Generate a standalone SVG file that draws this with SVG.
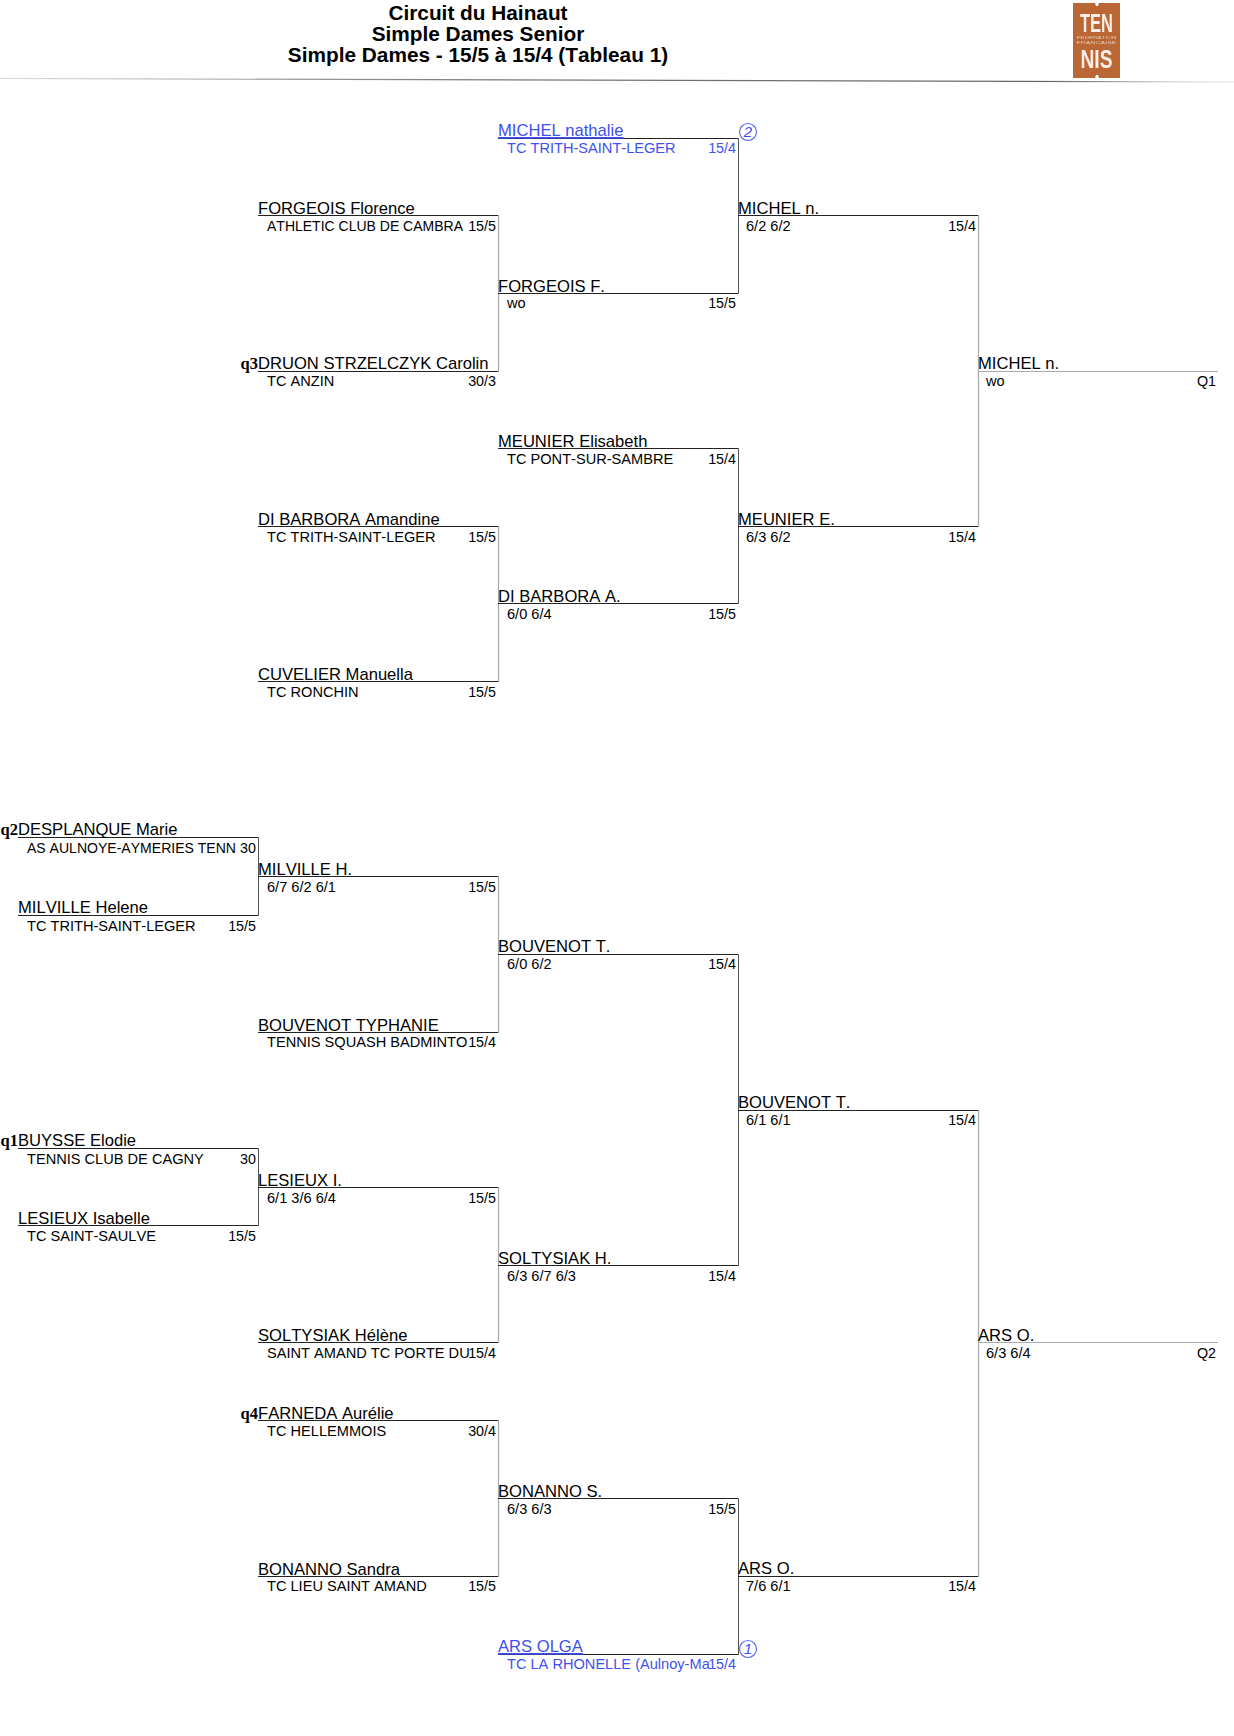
<svg xmlns="http://www.w3.org/2000/svg" width="1234" height="1736" viewBox="0 0 1234 1736">
<defs>
<linearGradient id="hr" x1="0" y1="0" x2="1234" y2="0" gradientUnits="userSpaceOnUse"><stop offset="0" stop-color="#d8d8d8"/><stop offset="0.15" stop-color="#aaa"/><stop offset="0.4" stop-color="#777"/><stop offset="0.85" stop-color="#666"/><stop offset="0.95" stop-color="#ccc"/><stop offset="1" stop-color="#e4e4e4"/></linearGradient>
<filter id="soft" x="-5%" y="-5%" width="110%" height="110%"><feGaussianBlur stdDeviation="0.5"/></filter>
</defs>
<style>
text{font-family:"Liberation Sans",Arial,sans-serif;fill:#000;font-kerning:none}
.t{font-size:20.8px;font-weight:bold;text-anchor:middle}
.n{font-size:16.6px}
.c{font-size:14.6px}
.r{font-size:14.3px;text-anchor:end}
.q{font-family:"Liberation Serif","Times New Roman",serif;font-size:16.5px;font-weight:bold;text-anchor:end}
.b text{fill:#3f50f0}
.h{stroke:#222;stroke-width:1;fill:none}
.v{stroke:#555;stroke-width:1;fill:none}
.g{stroke:#aaa;stroke-width:1.2;fill:none}
.s{fill:none;stroke:#5a6cf0;stroke-width:1.2}
.sn{font-size:15px;font-style:italic;text-anchor:middle;fill:#3f50f0}
</style>
<g id="header">
<text class="t" x="478" y="20">Circuit du Hainaut</text>
<text class="t" x="478" y="41">Simple Dames Senior</text>
<text class="t" x="478" y="62">Simple Dames - 15/5 à 15/4 (Tableau 1)</text>
<line x1="0" y1="78.5" x2="1234" y2="82" stroke="url(#hr)" stroke-width="1.2"/>
</g>
<g id="logo" filter="url(#soft)">
<path d="M1073 3H1095L1096 6H1098L1099 3H1120V78H1099L1098 75H1096L1095 78H1073Z" fill="#bb6636"/>
<text x="1096.500" y="32" font-size="25" font-weight="bold" text-anchor="middle" style="fill:#fbeee6;font-family:'Liberation Sans Narrow','Liberation Sans',sans-serif" textLength="33" lengthAdjust="spacingAndGlyphs">TEN</text>
<text x="1096.500" y="39" font-size="4" text-anchor="middle" style="fill:#e8c8b4" textLength="40" lengthAdjust="spacingAndGlyphs">FEDERATION</text>
<text x="1096.500" y="44" font-size="4" text-anchor="middle" style="fill:#e8c8b4" textLength="40" lengthAdjust="spacingAndGlyphs">FRANCAISE</text>
<text x="1096.500" y="68" font-size="25" font-weight="bold" text-anchor="middle" style="fill:#fbeee6;font-family:'Liberation Sans Narrow','Liberation Sans',sans-serif" textLength="32" lengthAdjust="spacingAndGlyphs">NIS</text>
</g>
<g id="connectors">
<path class="h" d="M18 837.500H258.500M18 915.500H258.500M18 1148.500H258.500M18 1225.500H258.500"/>
<path class="v" d="M258.500 837.500V915.500M258.500 1148.500V1225.500"/>
<path class="h" d="M258 215.500H498.500M258 371.500H498.500M258 526.500H498.500M258 681.500H498.500M258 876.500H498.500M258 1032.500H498.500M258 1187.500H498.500M258 1342.500H498.500M258 1420.500H498.500M258 1576.500H498.500"/>
<path class="g" d="M498.500 215.500V371.500M498.500 526.500V681.500M498.500 876.500V1032.500M498.500 1187.500V1342.500M498.500 1420.500V1576.500"/>
<path class="h" d="M498 138.500H738.500M498 293.500H738.500M498 448.500H738.500M498 603.500H738.500M498 954.500H738.500M498 1265.500H738.500M498 1498.500H738.500M498 1654.500H738.500"/>
<path class="v" d="M738.500 138.500V293.500M738.500 448.500V603.500M738.500 954.500V1265.500M738.500 1498.500V1654.500"/>
<path class="h" d="M738 215.500H978.500M738 526.500H978.500M738 1110.500H978.500M738 1576.500H978.500"/>
<path class="g" d="M978.500 215.500V526.500M978.500 1110.500V1576.500"/>
<path d="M978 371.500H1218M978 1342.500H1218" stroke="#aaa" stroke-width="1" fill="none"/>
</g>
<g id="n1"><text class="q" x="18" y="835">q2</text><text class="n" x="18" y="835">DESPLANQUE Marie</text><text class="c" x="27" y="853" textLength="209" lengthAdjust="spacingAndGlyphs">AS AULNOYE-AYMERIES TENN</text><text class="r" x="256" y="853">30</text></g>
<g id="n2"><text class="n" x="18" y="913">MILVILLE Helene</text><text class="c" x="27" y="931">TC TRITH-SAINT-LEGER</text><text class="r" x="256" y="931">15/5</text></g>
<g id="n3"><text class="q" x="18" y="1146">q1</text><text class="n" x="18" y="1146">BUYSSE Elodie</text><text class="c" x="27" y="1164">TENNIS CLUB DE CAGNY</text><text class="r" x="256" y="1164">30</text></g>
<g id="n4"><text class="n" x="18" y="1224">LESIEUX Isabelle</text><text class="c" x="27" y="1241">TC SAINT-SAULVE</text><text class="r" x="256" y="1241">15/5</text></g>
<g id="n5"><text class="n" x="258" y="214">FORGEOIS Florence</text><text class="c" x="267" y="231" textLength="196" lengthAdjust="spacingAndGlyphs">ATHLETIC CLUB DE CAMBRA</text><text class="r" x="496" y="231">15/5</text></g>
<g id="n6"><text class="q" x="258" y="369">q3</text><text class="n" x="258" y="369">DRUON STRZELCZYK Carolin</text><text class="c" x="267" y="386">TC ANZIN</text><text class="r" x="496" y="386">30/3</text></g>
<g id="n7"><text class="n" x="258" y="525">DI BARBORA Amandine</text><text class="c" x="267" y="542">TC TRITH-SAINT-LEGER</text><text class="r" x="496" y="542">15/5</text></g>
<g id="n8"><text class="n" x="258" y="680">CUVELIER Manuella</text><text class="c" x="267" y="697">TC RONCHIN</text><text class="r" x="496" y="697">15/5</text></g>
<g id="n9"><text class="n" x="258" y="875">MILVILLE H.</text><text class="c" x="267" y="892">6/7 6/2 6/1</text><text class="r" x="496" y="892">15/5</text></g>
<g id="n10"><text class="n" x="258" y="1031">BOUVENOT TYPHANIE</text><text class="c" x="267" y="1047">TENNIS SQUASH BADMINTO</text><text class="r" x="496" y="1047">15/4</text></g>
<g id="n11"><text class="n" x="258" y="1186">LESIEUX I.</text><text class="c" x="267" y="1203">6/1 3/6 6/4</text><text class="r" x="496" y="1203">15/5</text></g>
<g id="n12"><text class="n" x="258" y="1341">SOLTYSIAK Hélène</text><text class="c" x="267" y="1358">SAINT AMAND TC PORTE DU</text><text class="r" x="496" y="1358">15/4</text></g>
<g id="n13"><text class="q" x="258" y="1419">q4</text><text class="n" x="258" y="1419">FARNEDA Aurélie</text><text class="c" x="267" y="1436">TC HELLEMMOIS</text><text class="r" x="496" y="1436">30/4</text></g>
<g id="n14"><text class="n" x="258" y="1575">BONANNO Sandra</text><text class="c" x="267" y="1591">TC LIEU SAINT AMAND</text><text class="r" x="496" y="1591">15/5</text></g>
<g id="n15" class="b"><text class="n" x="498" y="136" text-decoration="underline">MICHEL nathalie</text><text class="c" x="507" y="153">TC TRITH-SAINT-LEGER</text><text class="r" x="736" y="153">15/4</text><circle class="s" cx="748" cy="132" r="8.500"/><text class="sn" x="748" y="137">2</text></g>
<g id="n16"><text class="n" x="498" y="292">FORGEOIS F.</text><text class="c" x="507" y="308">wo</text><text class="r" x="736" y="308">15/5</text></g>
<g id="n17"><text class="n" x="498" y="447">MEUNIER Elisabeth</text><text class="c" x="507" y="464">TC PONT-SUR-SAMBRE</text><text class="r" x="736" y="464">15/4</text></g>
<g id="n18"><text class="n" x="498" y="602">DI BARBORA A.</text><text class="c" x="507" y="619">6/0 6/4</text><text class="r" x="736" y="619">15/5</text></g>
<g id="n19"><text class="n" x="498" y="952">BOUVENOT T.</text><text class="c" x="507" y="969">6/0 6/2</text><text class="r" x="736" y="969">15/4</text></g>
<g id="n20"><text class="n" x="498" y="1264">SOLTYSIAK H.</text><text class="c" x="507" y="1281">6/3 6/7 6/3</text><text class="r" x="736" y="1281">15/4</text></g>
<g id="n21"><text class="n" x="498" y="1497">BONANNO S.</text><text class="c" x="507" y="1514">6/3 6/3</text><text class="r" x="736" y="1514">15/5</text></g>
<g id="n22" class="b"><text class="n" x="498" y="1652" text-decoration="underline">ARS OLGA</text><text class="c" x="507" y="1669">TC LA RHONELLE (Aulnoy-Ma</text><text class="r" x="736" y="1669">15/4</text><circle class="s" cx="748" cy="1649" r="8.500"/><text class="sn" x="748" y="1654">1</text></g>
<g id="n23"><text class="n" x="738" y="214">MICHEL n.</text><text class="c" x="746" y="231">6/2 6/2</text><text class="r" x="976" y="231">15/4</text></g>
<g id="n24"><text class="n" x="738" y="525">MEUNIER E.</text><text class="c" x="746" y="542">6/3 6/2</text><text class="r" x="976" y="542">15/4</text></g>
<g id="n25"><text class="n" x="738" y="1108">BOUVENOT T.</text><text class="c" x="746" y="1125">6/1 6/1</text><text class="r" x="976" y="1125">15/4</text></g>
<g id="n26"><text class="n" x="738" y="1574">ARS O.</text><text class="c" x="746" y="1591">7/6 6/1</text><text class="r" x="976" y="1591">15/4</text></g>
<g id="n27"><text class="n" x="978" y="369">MICHEL n.</text><text class="c" x="986" y="386">wo</text><text class="r" x="1216" y="386">Q1</text></g>
<g id="n28"><text class="n" x="978" y="1341">ARS O.</text><text class="c" x="986" y="1358">6/3 6/4</text><text class="r" x="1216" y="1358">Q2</text></g>
</svg>
